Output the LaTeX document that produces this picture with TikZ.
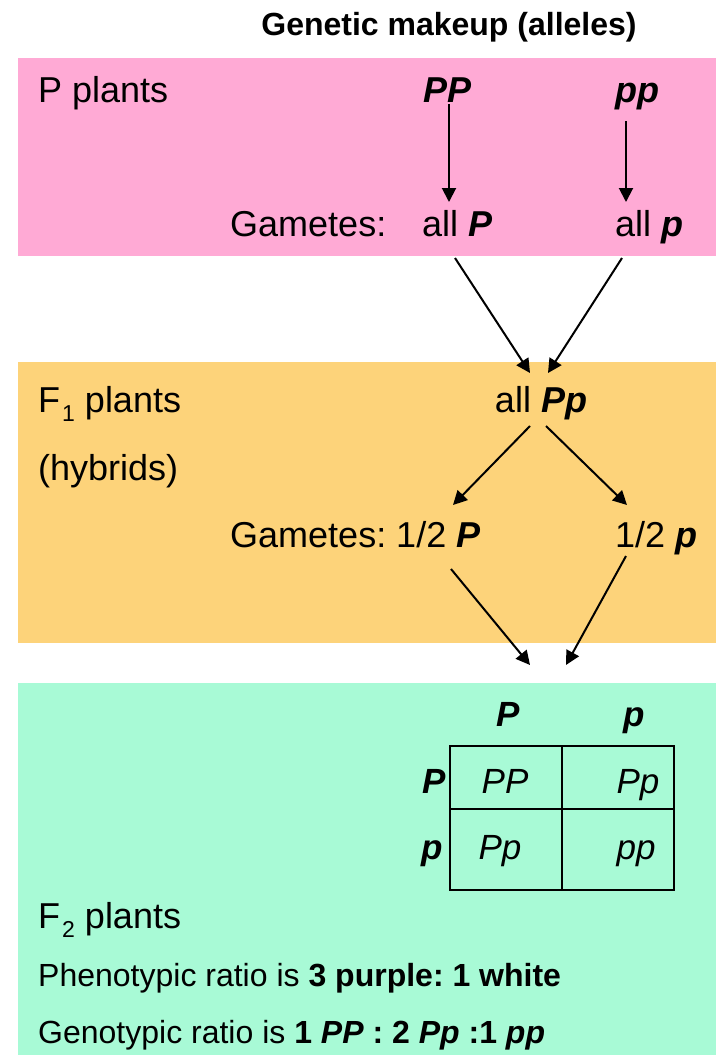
\documentclass[tikz,border=0pt]{standalone}
\usepackage{fontspec}
\setmainfont{Liberation Sans}
\usetikzlibrary{arrows.meta}
\definecolor{pinkband}{RGB}{255,170,213}
\definecolor{orangeband}{RGB}{253,211,122}
\definecolor{greenband}{RGB}{168,250,214}
\newcommand{\allele}[1]{\textbf{\textit{#1}}}
\newcommand{\lowsub}[1]{\hspace{2pt}\raisebox{-9pt}{\fontsize{23}{23}\selectfont #1}}
\frenchspacing

\begin{document}
\begin{tikzpicture}[x=1pt,y=-1pt,
  body/.style={font=\fontsize{36}{40}\selectfont, inner sep=0pt},
  note/.style={font=\fontsize{32}{36}\selectfont, inner sep=0pt},
  cell/.style={font=\fontsize{35}{40}\selectfont, inner sep=0pt},
  heading/.style={font=\bfseries\fontsize{32}{36}\selectfont, inner sep=0pt},
  link/.style={line width=2pt, -{Triangle[length=14pt,width=14pt]}},
  grid/.style={line width=2pt}]
\useasboundingbox (0,0) rectangle (716,1055);
\fill[white] (0,0) rectangle (716,1055);

% coloured bands for the three generations
\fill[pinkband]   (18,58)  rectangle (716,256);
\fill[orangeband] (18,362) rectangle (716,643);
\fill[greenband]  (18,683) rectangle (716,1055);

\node[heading, anchor=base] (title) at (449,35) {Genetic makeup (alleles)};

% P generation
\node[body, anchor=base west] (plabel) at (38,102) {P plants};
\node[body, anchor=base] (PP) at (448,102) {\allele{PP}};
\node[body, anchor=base] (pp) at (637,102) {\allele{pp}};
\node[body, anchor=base west] (gam1) at (230,236) {Gametes:};
\node[body, anchor=base west] (allP) at (422,236) {all \allele{P}};
\node[body, anchor=base west] (allp) at (615,236) {all \allele{p}};

\coordinate (PPs) at (449,104);
\coordinate (PPe) at (449,202);
\coordinate (pps) at (626,121);
\coordinate (ppe) at (626,202);
\draw[link] (PPs) -- (PPe);
\draw[link] (pps) -- (ppe);

\coordinate (allPs) at (455,258);
\coordinate (allps) at (622,258);
\coordinate (F1l) at (530,373);
\coordinate (F1r) at (548,373);
\draw[link] (allPs) -- (F1l);
\draw[link] (allps) -- (F1r);

% F1 generation
\node[body, anchor=base west] (f1label) at (38,412) {F\lowsub{1} plants};
\node[body, anchor=base west] (hyb) at (38,480) {(hybrids)};
\node[body, anchor=base] (allPp) at (541,412) {all \allele{Pp}};
\node[body, anchor=base west] (gam2) at (230,547) {Gametes: 1/2 \allele{P}};
\node[body, anchor=base west] (halfp) at (615,547) {1/2 \allele{p}};

\coordinate (Ppl) at (530,426);
\coordinate (Ppr) at (546,426);
\coordinate (hPe) at (453,505);
\coordinate (hpe) at (627,505);
\draw[link] (Ppl) -- (hPe);
\draw[link] (Ppr) -- (hpe);

\coordinate (hPs) at (451,569);
\coordinate (hps) at (626,556);
\coordinate (F2l) at (530,665);
\coordinate (F2r) at (566,665);
\draw[link] (hPs) -- (F2l);
\draw[link] (hps) -- (F2r);

% Punnett square
\node[cell, anchor=base] (colP) at (508,726) {\allele{P}};
\node[cell, anchor=base] (colp) at (634,726) {\allele{p}};
\node[cell, anchor=base] (rowP) at (434,793) {\allele{P}};
\node[cell, anchor=base] (rowp) at (432,859) {\allele{p}};
\node[cell, anchor=base] (cPP) at (505,793) {\textit{PP}};
\node[cell, anchor=base] (cPp1) at (638,793) {\textit{Pp}};
\node[cell, anchor=base] (cPp2) at (500,859) {\textit{Pp}};
\node[cell, anchor=base] (cpp) at (636,859) {\textit{pp}};
\coordinate (sqNW) at (450,746);
\coordinate (sqSE) at (674,890);
\draw[grid] (sqNW) rectangle (sqSE);
\draw[grid] (562,746) -- (562,890);
\draw[grid] (450,809) -- (674,809);

% F2 generation
\node[body, anchor=base west] (f2label) at (38,928) {F\lowsub{2} plants};
\node[note, anchor=base west] (pheno) at (38,986)
  {Phenotypic ratio is \textbf{3 purple: 1 white}};
\node[note, anchor=base west] (geno) at (38,1043)
  {Genotypic ratio is \textbf{1 \textit{PP} : 2 \textit{Pp} :1 \textit{pp}}};
\end{tikzpicture}
\end{document}
